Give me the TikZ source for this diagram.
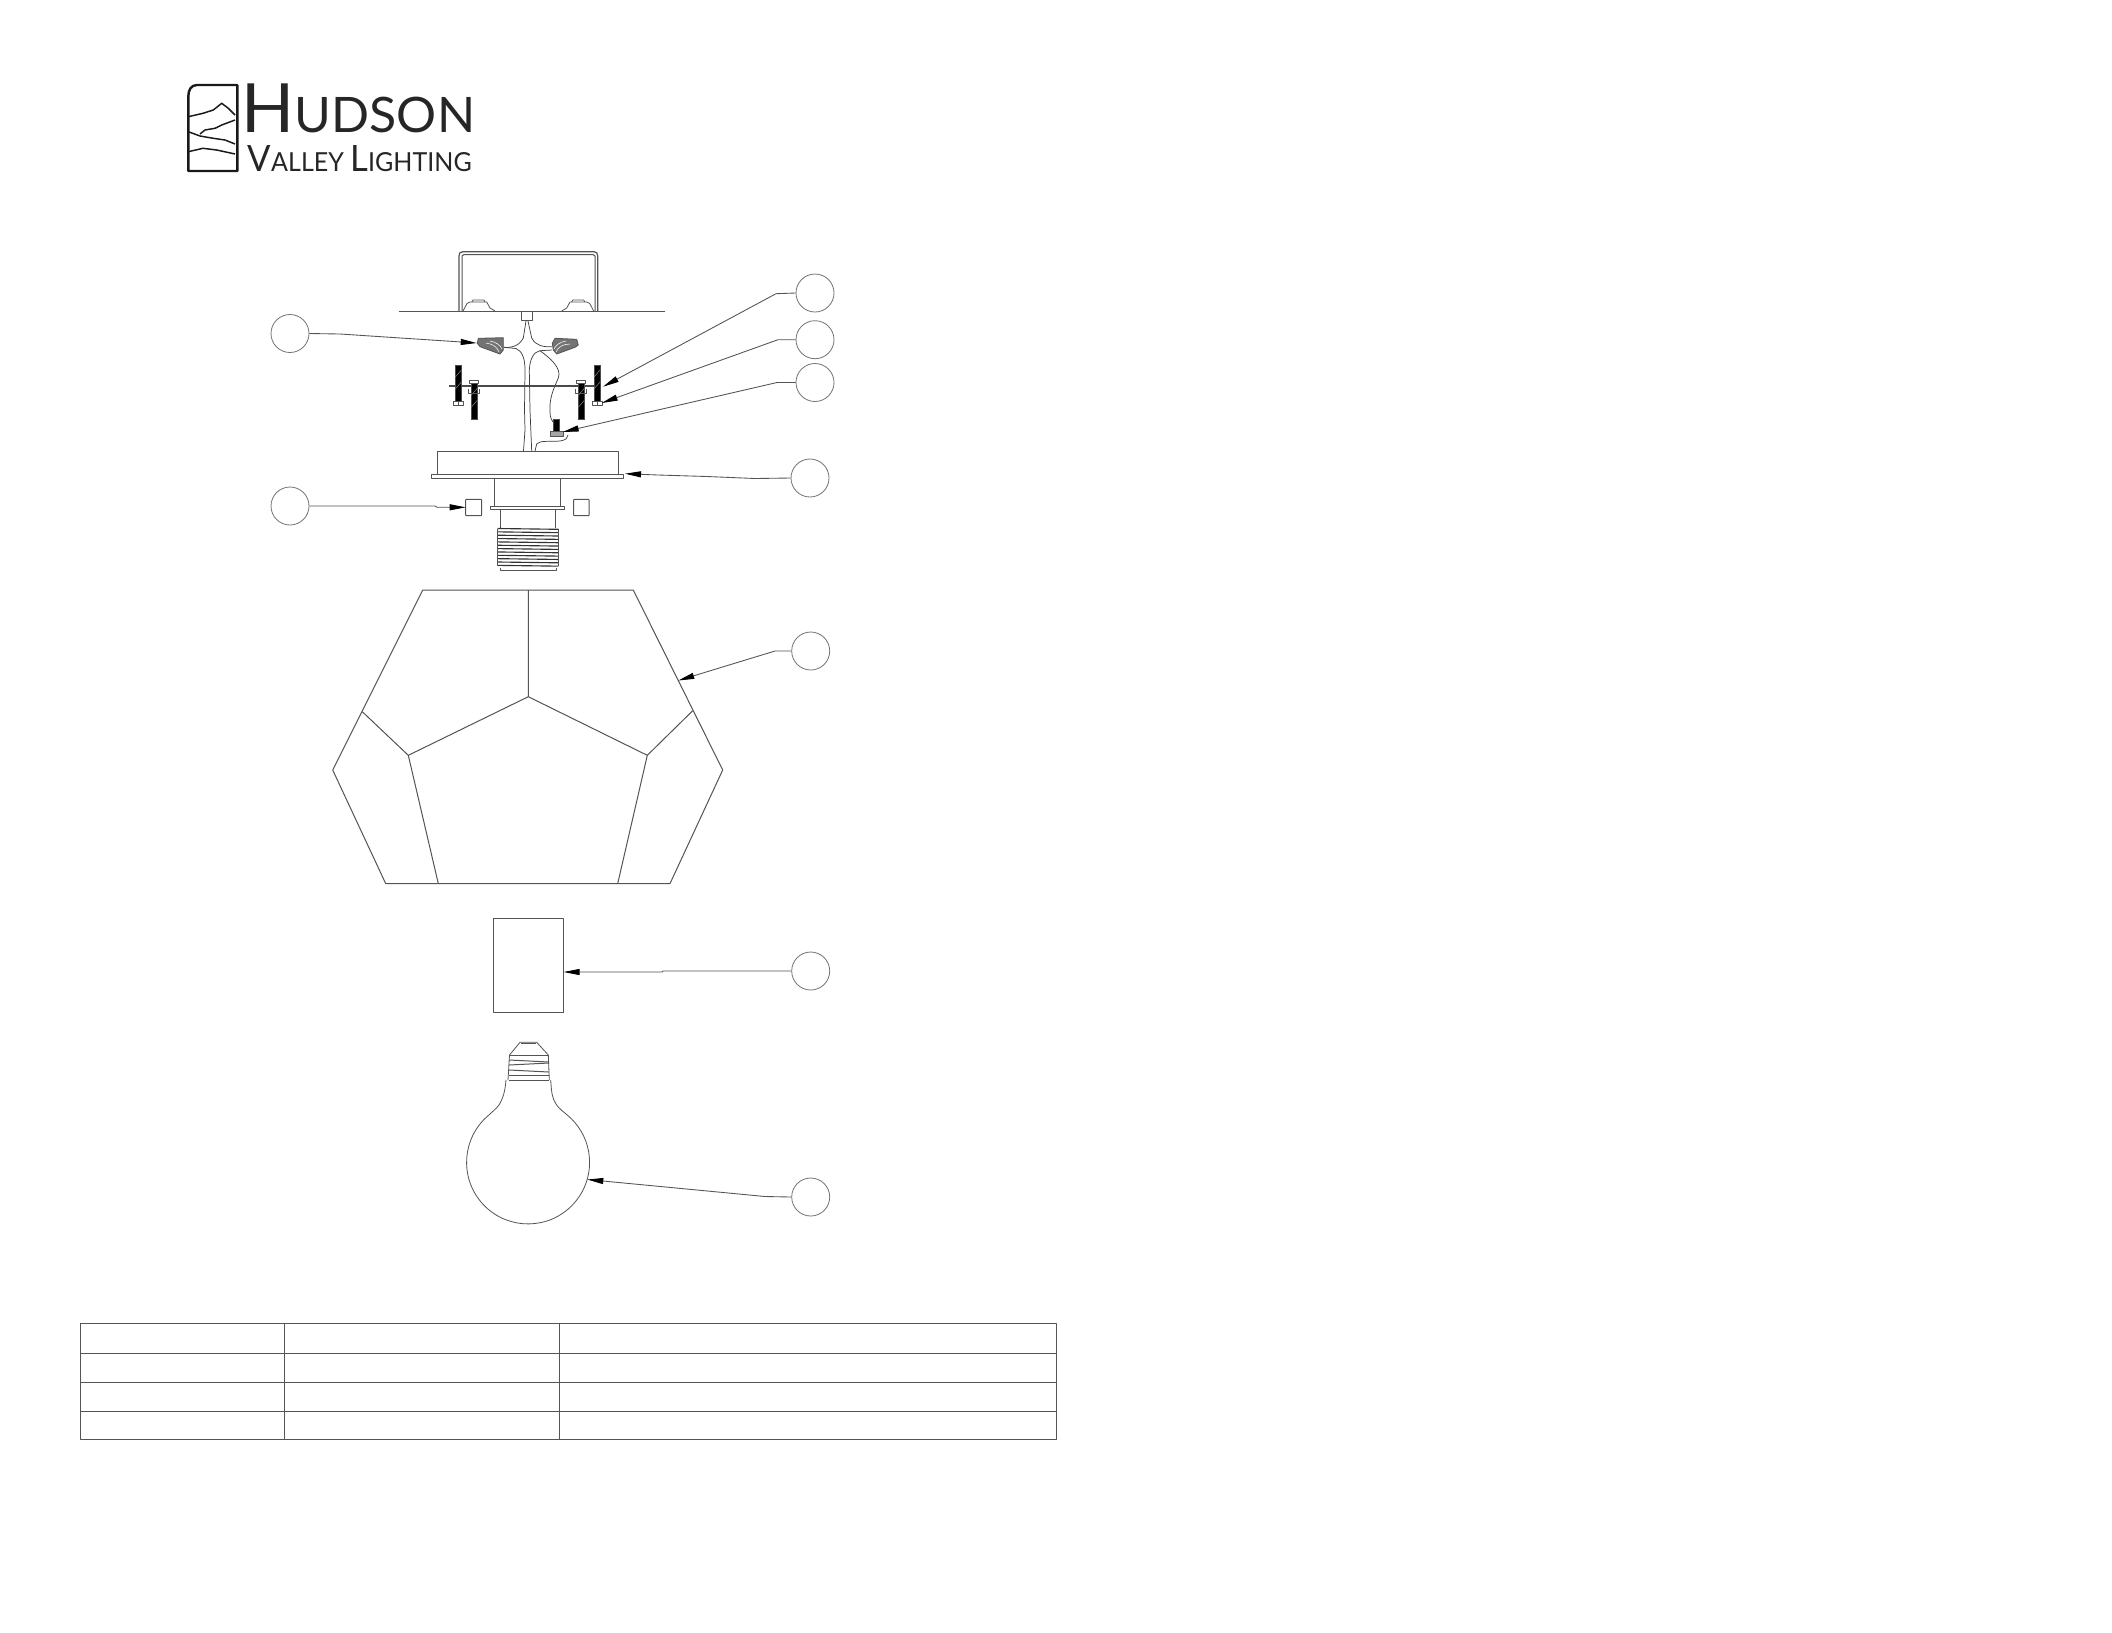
\documentclass[tikz,border=0pt]{standalone}
\usepackage{fontspec}
\usetikzlibrary{arrows.meta}
\newfontfamily\logofont{Lato}
\definecolor{ink}{gray}{0.33}
\definecolor{cir}{gray}{0.45}
\tikzset{
  part/.style={draw=ink,line width=0.75pt,line join=round},
  thin part/.style={draw=ink,line width=0.6pt,line join=round},
  wire/.style={draw=black!75,line width=0.55pt,line join=round},
  callout/.style={circle,draw=cir,line width=0.6pt,minimum size=28.5pt,inner sep=0pt},
  leader/.style={draw=ink,line width=0.65pt,line join=round,-{Triangle[length=12pt,width=4.5pt,black]}},
  hw/.style={fill=black,draw=black!70,line width=0.3pt},
  logo/.style={draw=black!90,line width=1.1pt,line join=round},
  logotext/.style={inner sep=0pt,anchor=base west,text=black!85}
}
\begin{document}
\begin{tikzpicture}[x=0.75pt,y=-0.75pt]
\useasboundingbox (0,0) rectangle (2112,1632);
\fill[white] (0,0) rectangle (2112,1632);
% ---- logo
\draw[logo,line width=1.8pt] (188.3,96.7) .. controls (188.3,90) and (191,85) .. (197,85) -- (237.3,85) -- (237.3,171) -- (188.3,171) -- cycle;
\draw[logo] (188.3,116.7) -- (203,113.3) -- (213.3,110) -- (221.7,103.3) -- (228.3,108.3) -- (235,115);
\draw[logo] (200,134) -- (205,130) -- (215,128.3) -- (221.7,125) -- (235,120);
\draw[logo] (188.3,131.7) -- (200,136) -- (213.3,138.3) -- (225,140) -- (235,144);
\draw[logo] (188.3,151.7) -- (203,148.3) -- (216.7,150) -- (235,154);
\node[logotext] (brand) at (241.5,132.7) {\resizebox{175pt}{36.5pt}{\logofont{\fontsize{50.7pt}{50pt}\selectfont H}{\fontsize{36.5pt}{40pt}\selectfont UDSON}}};
\node[logotext] (subbrand) at (247.5,171) {\resizebox{168pt}{19.5pt}{\logofont{\fontsize{27pt}{30pt}\selectfont V}{\fontsize{19.5pt}{22pt}\selectfont ALLEY }{\fontsize{27pt}{30pt}\selectfont L}{\fontsize{19.5pt}{22pt}\selectfont IGHTING}}};
% ---- junction box and ceiling
\draw[part] (399.3,311) -- (665,311);
\draw[part,line width=0.9pt] (459,311) -- (459,256) .. controls (459,253) and (460,251.7) .. (463,251.7) -- (594,251.7) .. controls (596.5,251.7) and (597.7,253) .. (597.7,256) -- (597.7,311);
\draw[part] (462,311) -- (462,256) -- (464,254.5) -- (593,254.5) -- (595,256) -- (595,311);
\draw[thin part] (463,311) -- (467,303.5) -- (470,302) -- (486.7,302) -- (490,308) -- (495,311);
\draw[thin part] (593.7,311) -- (589.7,303.5) -- (586.7,302) -- (570,302) -- (566.7,308) -- (561.7,311);
\draw[thin part] (472,302) -- (473,300) -- (484,300) -- (485,302);
\draw[thin part] (571.7,302) -- (572.7,300) -- (583.7,300) -- (584.7,302);
\draw[thin part] (521,311) -- (521,320.7) -- (532.7,320.7) -- (532.7,311);
% ---- wires
\draw[wire] (526,321) -- (523.3,338) .. controls (519,346) and (512,348) .. (504,347.3);
\draw[wire] (504,347.3) -- (516,348.5) .. controls (522,351) and (525,358) .. (525,370) -- (524.5,410) -- (525,430) -- (523.5,451);
\draw[wire] (528,321) -- (531.7,338) .. controls (536,346) and (543,347) .. (552,346.7);
\draw[wire] (552,350) -- (540,350.7) .. controls (534,352) and (530,358) .. (529.3,370) -- (530,410) -- (531.7,451);
\draw[wire] (540,350.7) .. controls (550,358) and (562,368) .. (558.3,378) .. controls (554,388) and (549,398) .. (550,412) .. controls (550,418) and (552,421) .. (554,423);
\draw[wire] (535,451) -- (536.7,444) .. controls (540,440) and (550,442) .. (560,441) .. controls (566,440) and (568,438) .. (568,435);
% ---- wire nuts
\draw[thin part,fill=black!55] (478.3,338.3) -- (503.3,337.7) -- (503.3,350) -- (500,354) -- (480,346.7) -- (477.3,343.3) -- cycle;
\draw[white,line width=0.4pt] (486,343) .. controls (493,344) and (497,347) .. (499,352);
\draw[white,line width=0.4pt] (490,341) .. controls (496,342) and (500,345) .. (502,349);
\draw[thin part,fill=black!55] (552.3,343.3) -- (555,338.3) -- (576.7,339.3) -- (578.3,345) -- (575,347.3) -- (556.7,354) -- (553.3,350) -- cycle;
\draw[white,line width=0.4pt] (570,344) .. controls (563,344) and (558,347) .. (556,352);
\draw[white,line width=0.4pt] (566,341) .. controls (560,342) and (556,345) .. (554,349);
% ---- crossbar and screws
\draw[draw=black!70,line width=1.1pt] (449.3,386) -- (600,386);
\foreach \n/\x/\a/\b in {sa/458.3/365/400.7,sb/474.2/383.3/419.3,sc/581.3/383.3/419.3,sd/597/365/400.7}{
  \path[hw] (\x-3,\a) rectangle (\x+3,\b);
  \draw[black!45,line width=0.35pt] (\x-3,\a+12) -- (\x+3,\a+5) (\x-3,\a+24) -- (\x+3,\a+17);
}
\foreach \x in {458.3,597}{
  \draw[thin part,fill=white] (\x-5,401) rectangle (\x+5,405);
  \draw[thin part] (\x,401) -- (\x,405);
}
\foreach \x in {474.2,581.3}{
  \draw[thin part,fill=white] (\x-5,380) rectangle (\x+4,383);
  \draw[thin part] (\x-5.5,389) -- (\x-5.5,393) -- (\x+5.5,393) -- (\x+5.5,389);
}
\path[hw] (553.3,419.3) rectangle (559,431);
\draw[thin part,fill=black!35] (550,431) rectangle (563,436);
% ---- canopy
\draw[part] (437.7,474) -- (437.7,451) -- (618.3,451) -- (618.3,474);
\draw[part] (431,474.3) rectangle (623.3,478.6);
\draw[part] (494.7,478.6) -- (494.7,506);
\draw[part] (560.7,478.6) -- (560.7,506);
\draw[part] (490.7,506) rectangle (564.7,509);
\draw[part] (500.3,509) -- (500.3,528.3);
\draw[part] (555,509) -- (555,528.3);
\foreach \i in {0,...,11}{
  \draw[draw=black!80,line width=0.85pt] (497.7,528.5+3.35*\i) -- (558.3,529.3+3.35*\i);
}
\draw[part] (500,568) -- (500,570) -- (556,570) -- (556,568);
\draw[part] (497.7,528.5) -- (497.7,566) (558.3,528.5) -- (558.3,566);
\draw[part,rounded corners=0.5pt] (465.7,499.3) rectangle (481.7,515.7);
\draw[part,rounded corners=0.5pt] (573.7,499.3) rectangle (589,515.7);
% ---- shade
\draw[part] (422.7,590) -- (633.3,590) -- (722.7,770) -- (670,883.6) -- (385.7,883.6) -- (332.7,770) -- cycle;
\draw[part] (528.3,590) -- (528.3,696.7) -- (408.3,755.3) -- (438.3,883.6);
\draw[part] (528.3,696.7) -- (647.3,755.3) -- (617.7,883.6);
\draw[part] (408.3,755.3) -- (362.3,711.7);
\draw[part] (647.3,755.3) -- (692.7,710.7);
% ---- socket cover
\draw[part] (493.7,918.3) rectangle (563,1012);
% ---- bulb
\draw[thin part] (506,1080) .. controls (505,1092) and (503,1098) .. (499,1105) .. controls (496,1109) and (492,1112) .. (488.3,1115.5)
  arc[start angle=229.7,end angle=-49.7,radius=61.5]
  .. controls (564,1112) and (559,1109) .. (556,1104) .. controls (552,1098) and (551.5,1092) .. (550.7,1080);
\draw[thin part] (508,1080) -- (509.5,1055) -- (520,1042.3) -- (536.7,1042.3) -- (548.3,1055) -- (549.3,1080);
\draw[part,line width=1.1pt] (521,1043.5) -- (536,1043.5);
\foreach \y/\d in {1055/0,1060/2,1065/-2,1070/2,1075/0,1080/0}{
  \draw[part] (509,\y) -- (549,\y+\d);
}
% ---- callouts
\node[callout] (c1) at (815,293) {};
\node[callout] (c2) at (815,339.7) {};
\node[callout] (c3) at (815,382.5) {};
\node[callout] (c4) at (810,478) {};
\node[callout] (c5) at (290,333.5) {};
\node[callout] (c6) at (290,506) {};
\node[callout] (c7) at (810.7,651) {};
\node[callout] (c8) at (810.7,971) {};
\node[callout] (c9) at (810.7,1197) {};
\coordinate (b1) at (776,293.7);  \coordinate (t1) at (603,386.7);
\coordinate (b2) at (778,339.7);  \coordinate (t2) at (601.7,403);
\coordinate (b3) at (777,382.5);  \coordinate (t3) at (562.7,432);
\coordinate (b4) at (755,478.5);  \coordinate (b4a) at (707,476.5); \coordinate (b4b) at (658,475); \coordinate (t4) at (625,473.7);
\coordinate (b5) at (340,334);    \coordinate (t5) at (476.7,343);
\coordinate (b6) at (435,506);    \coordinate (b6a) at (437,507.3); \coordinate (t6) at (465.7,507.3);
\coordinate (b7) at (775,651);    \coordinate (t7) at (678.3,680.5);
\coordinate (b8) at (663,971);    \coordinate (b8a) at (662,972); \coordinate (t8) at (563.5,972);
\coordinate (b9) at (765,1196.5); \coordinate (t9) at (587.3,1179.5);
\draw[leader] (c1.west) -- (b1) -- (t1);
\draw[leader] (c2.west) -- (b2) -- (t2);
\draw[leader] (c3.west) -- (b3) -- (t3);
\draw[leader] (c4.west) -- (b4) -- (b4a) -- (b4b) -- (t4);
\draw[leader] (c5.east) -- (b5) -- (t5);
\draw[leader] (c6.east) -- (b6) -- (b6a) -- (t6);
\draw[leader] (c7.west) -- (b7) -- (t7);
\draw[leader] (c8.west) -- (b8) -- (b8a) -- (t8);
\draw[leader] (c9.west) -- (b9) -- (t9);
% ---- table
\draw[part] (80.7,1323.5) rectangle (1056,1439);
\draw[part] (80.7,1353.5) -- (1056,1353.5);
\draw[part] (80.7,1382) -- (1056,1382);
\draw[part] (80.7,1411) -- (1056,1411);
\draw[part] (284.3,1323.5) -- (284.3,1439);
\draw[part] (559,1323.5) -- (559,1439);
\end{tikzpicture}
\end{document}
